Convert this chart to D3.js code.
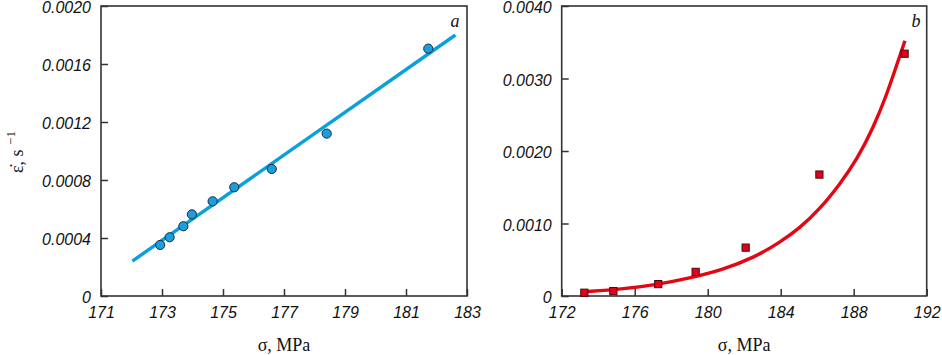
<!DOCTYPE html>
<html>
<head>
<meta charset="utf-8">
<script src="https://cdn.jsdelivr.net/npm/d3@7"></script>
<style>
  body { margin: 0; background: #fff; }
  .tick text { font-family: "Liberation Sans", Arial, sans-serif; font-style: italic; font-size: 16px; fill: #111; }
  .title { font-family: "Liberation Serif", "Times New Roman", serif; font-size: 18px; fill: #111; }
</style>
</head>
<body>
<script>
const width = 942, height = 355;

// panel a: stress (MPa) vs strain rate (1/s)
const sigmaA = [172.94, 173.25, 173.70, 173.98, 174.66, 175.37, 176.60, 178.40, 181.73];
const rateA = [0.000352, 0.000405, 0.000481, 0.000563, 0.000653, 0.000750, 0.000876, 0.00112, 0.001706];
const fitSigmaA = [172.03, 182.62];
const fitRateA = [0.000241, 0.0018];
const xTicksA = [171, 173, 175, 177, 179, 181, 183];
const yTicksA = [0, 0.0004, 0.0008, 0.0012, 0.0016, 0.0020];

// panel b
const sigmaB = [173.24, 174.83, 177.29, 179.34, 182.08, 186.12, 190.79];
const rateB = [0.000045, 0.000068, 0.000164, 0.000333, 0.000667, 0.001675, 0.003342];
const fitSigmaB = [173.28, 175.29, 177.11, 178.94, 180.77, 182.59, 183.96, 185.06, 186.15, 187.25, 188.16, 189.07, 189.81, 190.36, 190.81];
const fitRateB = [0.000059, 0.000096, 0.000151, 0.000242, 0.000356, 0.000535, 0.000740, 0.000940, 0.001200, 0.001545, 0.001875, 0.002319, 0.002777, 0.003188, 0.003521];
const xTicksB = [172, 176, 180, 184, 188, 192];
const yTicksB = [0, 0.0010, 0.0020, 0.0030, 0.0040];

const svg = d3.select("body").append("svg")
    .attr("width", width)
    .attr("height", height);

const fmt = d => d === 0 ? "0" : d3.format(".4f")(d);

function panel(opt) {
    const x = d3.scaleLinear().domain(opt.xDomain).range([opt.left, opt.right]);
    const y = d3.scaleLinear().domain(opt.yDomain).range([296, 6]);
    const g = svg.append("g");

    g.append("g")
        .attr("transform", "translate(0,296)")
        .call(d3.axisBottom(x).tickValues(opt.xTicks).tickSize(-7).tickPadding(11))
        .call(a => a.select(".domain").remove())
        .call(a => a.selectAll("line").attr("stroke", "#333").attr("stroke-width", 1.5));

    g.append("g")
        .attr("transform", `translate(${opt.left},0)`)
        .call(d3.axisLeft(y).tickValues(opt.yTicks).tickFormat(fmt).tickSize(-7).tickPadding(10))
        .call(a => a.select(".domain").remove())
        .call(a => a.selectAll("line").attr("stroke", "#333").attr("stroke-width", 1.5))
        .call(a => a.selectAll("text").attr("dy", "0.42em"));

    g.append("rect")
        .attr("x", opt.left).attr("y", 6)
        .attr("width", opt.right - opt.left).attr("height", 290)
        .attr("fill", "none").attr("stroke", "#333").attr("stroke-width", 1.6);

    const fit = opt.fitX.map((v, i) => [v, opt.fitY[i]]);
    g.append("path")
        .datum(fit)
        .attr("d", d3.line().x(d => x(d[0])).y(d => y(d[1])).curve(d3.curveBasis))
        .attr("fill", "none")
        .attr("stroke", opt.lineColor)
        .attr("stroke-width", 3.4);

    const pts = opt.px.map((v, i) => [v, opt.py[i]]);
    if (opt.marker === "circle") {
        g.selectAll("circle").data(pts).enter().append("circle")
            .attr("cx", d => x(d[0])).attr("cy", d => y(d[1])).attr("r", 4.6)
            .attr("fill", opt.fill).attr("stroke", "#1a2a3a").attr("stroke-width", 1);
    } else {
        g.selectAll("rect.pt").data(pts).enter().append("rect")
            .attr("class", "pt")
            .attr("x", d => x(d[0]) - 3.6).attr("y", d => y(d[1]) - 3.6)
            .attr("width", 7.2).attr("height", 7.2)
            .attr("fill", opt.fill).attr("stroke", "#4a0a0a").attr("stroke-width", 1);
    }

    g.append("text")
        .attr("class", "title")
        .attr("x", (opt.left + opt.right) / 2).attr("y", 351)
        .attr("text-anchor", "middle")
        .text("σ, MPa");

    g.append("text")
        .attr("class", "title")
        .attr("x", opt.labelX).attr("y", 27)
        .attr("font-style", "italic")
        .attr("text-anchor", "middle")
        .text(opt.label);
}

panel({
    xDomain: [171, 183], yDomain: [0, 0.002], left: 101, right: 467,
    xTicks: xTicksA, yTicks: yTicksA,
    px: sigmaA, py: rateA, fitX: fitSigmaA, fitY: fitRateA,
    lineColor: "#0aa0dc", fill: "#1a9fdc", marker: "circle", label: "a", labelX: 455
});

panel({
    xDomain: [172, 192], yDomain: [0, 0.004], left: 561.7, right: 926.7,
    xTicks: xTicksB, yTicks: yTicksB,
    px: sigmaB, py: rateB, fitX: fitSigmaB, fitY: fitRateB,
    lineColor: "#e30613", fill: "#e3001b", marker: "square", label: "b", labelX: 916
});

// y axis title (shared, left)
const yt = svg.append("text")
    .attr("class", "title")
    .attr("transform", "translate(23,152) rotate(-90)")
    .attr("text-anchor", "middle");
yt.append("tspan").text("ε\u0307, s ");
yt.append("tspan").attr("dy", -8).attr("font-size", 13).text("\u22121");
</script>
</body>
</html>
